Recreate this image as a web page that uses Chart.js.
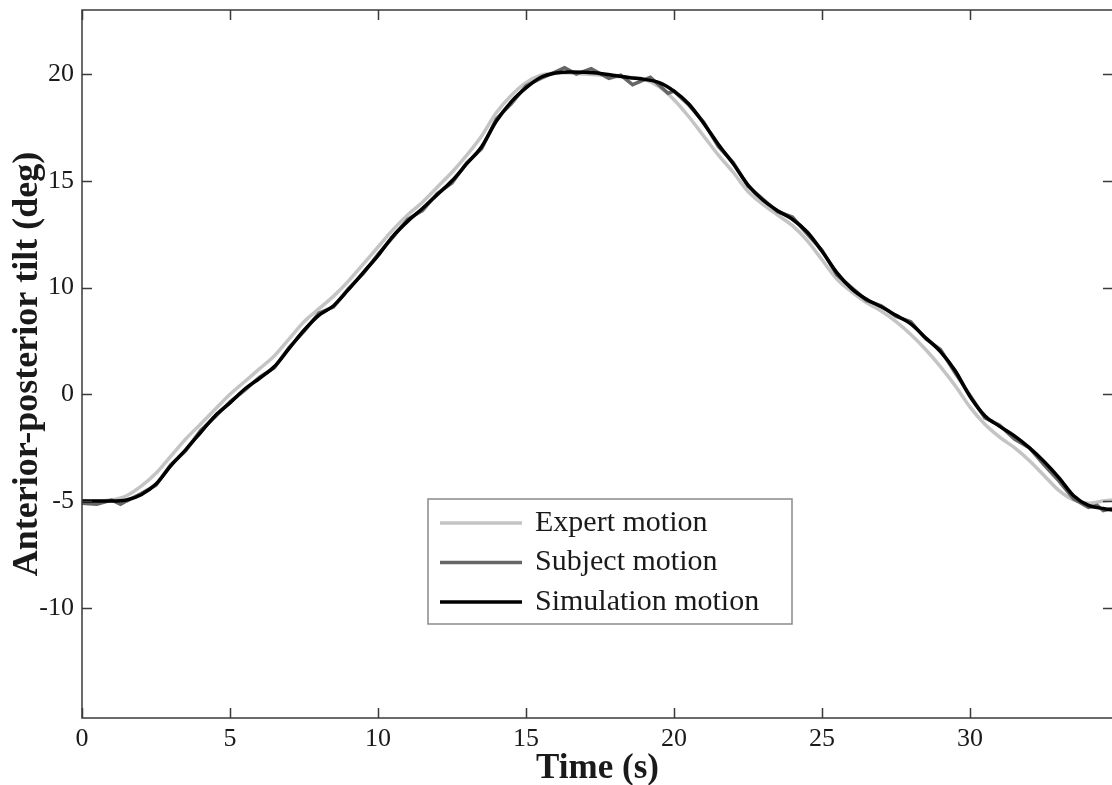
<!DOCTYPE html>
<html>
<head>
<meta charset="utf-8">
<title>Anterior-posterior tilt</title>
<script src="https://cdn.jsdelivr.net/npm/chart.js@4.4.0/dist/chart.umd.min.js"></script>
<style>
  html, body { margin: 0; padding: 0; background: #fff; overflow: hidden; }
  #wrap { width: 1112px; height: 785px; overflow: hidden; }
</style>
</head>
<body>
<div id="wrap"><canvas id="tilt" width="1120" height="785"></canvas></div>
<script>
// ---- Data ----
const xTicks = [0, 5, 10, 15, 20, 25, 30];
// tick positions on the y scale and the labels printed next to them
const yTickPos = [20, 15, 10, 5, 0, -5];
const yTickLabels = ["20", "15", "10", "0", "-5", "-10"];

const seriesNames = ["Expert motion", "Subject motion", "Simulation motion"];

const timeSec = [0, 0.5, 1, 1.5, 2, 2.5, 3, 3.5, 4, 4.5, 5, 5.5, 6, 6.5, 7, 7.5, 8, 8.5, 9, 9.5,
  10, 10.5, 11, 11.5, 12, 12.5, 13, 13.5, 14, 14.5, 15, 15.5, 16, 16.5, 17, 17.5, 18, 18.5, 19, 19.5,
  20, 20.5, 21, 21.5, 22, 22.5, 23, 23.5, 24, 24.5, 25, 25.5, 26, 26.5, 27, 27.5, 28, 28.5, 29, 29.5,
  30, 30.5, 31, 31.5, 32, 32.5, 33, 33.5, 34, 34.5, 34.8];

const expertTilt = [0, 0, 0.05, 0.25, 0.7, 1.3, 2.1, 2.9, 3.6, 4.3, 5.0, 5.6, 6.2, 6.8, 7.6, 8.4, 9.0, 9.6, 10.3, 11.1,
  11.9, 12.7, 13.4, 14.0, 14.7, 15.4, 16.2, 17.1, 18.2, 19.0, 19.6, 19.95, 20.05, 20.05, 20.0, 19.95, 19.9, 19.85, 19.75, 19.4,
  18.8, 18.0, 17.1, 16.2, 15.4, 14.5, 13.9, 13.4, 12.9, 12.2, 11.3, 10.4, 9.8, 9.3, 8.9, 8.4, 7.8, 7.1, 6.3, 5.4,
  4.4, 3.6, 3.0, 2.5, 1.9, 1.2, 0.5, 0.05, -0.1, 0.0, 0.05];

const simTilt = [0, 0, 0, 0.05, 0.3, 0.8, 1.65, 2.4, 3.2, 4.0, 4.6, 5.25, 5.75, 6.3, 7.15, 8.0, 8.7, 9.15, 9.9, 10.7,
  11.5, 12.4, 13.1, 13.7, 14.35, 15.0, 15.8, 16.6, 17.8, 18.7, 19.35, 19.85, 20.05, 20.1, 20.08, 20.03, 19.93, 19.83, 19.75, 19.6,
  19.2, 18.6, 17.7, 16.7, 15.8, 14.8, 14.1, 13.6, 13.2, 12.6, 11.7, 10.7, 9.95, 9.45, 9.1, 8.7, 8.3, 7.65, 7.0, 6.1,
  4.9, 4.0, 3.5, 3.05, 2.5, 1.85, 1.1, 0.25, -0.2, -0.35, -0.42];

const subjectTime = [0, 0.5, 1, 1.3, 1.5, 2, 2.5, 3, 3.5, 4, 4.5, 5, 5.5, 6, 6.5, 7, 7.5, 8, 8.5, 9, 9.5,
  10, 10.5, 11, 11.5, 12, 12.5, 13, 13.5, 14, 14.5, 15, 15.5, 16, 16.3, 16.7, 17.2, 17.8, 18.2, 18.6, 19.2, 19.8,
  20, 20.5, 21, 21.5, 22, 22.5, 23, 23.5, 24, 24.5, 25, 25.5, 26, 26.5, 27, 27.5, 28, 28.5, 29, 29.5,
  30, 30.5, 31, 31.5, 32, 32.5, 33, 33.5, 34, 34.3, 34.5, 34.8];

const subjectTilt = [-0.1, -0.15, 0.05, -0.15, 0.0, 0.35, 0.75, 1.7, 2.35, 3.3, 3.95, 4.65, 5.2, 5.8, 6.25, 7.2, 7.95, 8.8, 9.1, 9.95, 10.65,
  11.55, 12.35, 13.2, 13.6, 14.4, 14.9, 15.85, 16.5, 17.9, 18.6, 19.45, 19.8, 20.1, 20.3, 20.0, 20.25, 19.8, 19.95, 19.5, 19.85, 19.1,
  19.2, 18.55, 17.75, 16.6, 15.85, 14.75, 14.15, 13.55, 13.3, 12.5, 11.75, 10.6, 10.0, 9.4, 9.15, 8.65, 8.4, 7.6, 7.1, 6.0,
  4.95, 3.9, 3.55, 2.9, 2.5, 1.7, 0.95, 0.1, -0.3, -0.2, -0.45, -0.35];

// ---- Styles ----
const C = {
  expert:  "#c4c4c4",
  subject: "#666666",
  sim:     "#000000",
  frame:   "#3a3a3a",
  text:    "#1a1a1a",
  legendBorder: "#8a8a8a",
};
const FONT = "'Liberation Serif', 'Times New Roman', serif";

const toPoints = (xs, ys) => xs.map((t, i) => ({x: t, y: ys[i]}));

// no extra room for half tick labels, the frame sits at fixed offsets
const noPad = s => { s.paddingTop = 0; s.paddingBottom = 0; s.paddingLeft = 0; s.paddingRight = 0; };

// frame with inward ticks on all four sides, plus the boxed legend
const framePlugin = {
  id: "frame",
  afterDraw(chart) {
    const {ctx, chartArea: a, scales: {x, y}} = chart;
    const tick = 10;
    ctx.save();
    ctx.strokeStyle = C.frame;
    ctx.lineWidth = 1.5;
    ctx.strokeRect(a.left, a.top, a.right - a.left, a.bottom - a.top);
    ctx.beginPath();
    xTicks.forEach(t => {
      const px = Math.round(x.getPixelForValue(t)) + 0.5;
      ctx.moveTo(px, a.bottom); ctx.lineTo(px, a.bottom - tick);
      ctx.moveTo(px, a.top); ctx.lineTo(px, a.top + tick);
    });
    yTickPos.forEach(v => {
      const py = Math.round(y.getPixelForValue(v)) + 0.5;
      ctx.moveTo(a.left, py); ctx.lineTo(a.left + tick, py);
      ctx.moveTo(a.right, py); ctx.lineTo(a.right - tick, py);
    });
    ctx.stroke();

    // legend
    const lx = a.left + 346, ly = a.top + 489, lw = 364, lh = 125;
    ctx.fillStyle = "#fff";
    ctx.fillRect(lx, ly, lw, lh);
    ctx.strokeStyle = C.legendBorder;
    ctx.lineWidth = 1.5;
    ctx.strokeRect(lx, ly, lw, lh);
    ctx.font = "30px " + FONT;
    ctx.textBaseline = "middle";
    chart.data.datasets.forEach((ds, i) => {
      const ry = ly + 24 + i * 39.5;
      ctx.strokeStyle = ds.borderColor;
      ctx.lineWidth = 3.5;
      ctx.beginPath();
      ctx.moveTo(lx + 12, ry); ctx.lineTo(lx + 94, ry);
      ctx.stroke();
      ctx.fillStyle = C.text;
      ctx.fillText(ds.label, lx + 107, ry);
    });
    ctx.restore();
  }
};

new Chart(document.getElementById("tilt"), {
  type: "line",
  data: {
    datasets: [
      {
        label: seriesNames[0],
        data: toPoints(timeSec, expertTilt),
        borderColor: C.expert, borderWidth: 3.5, tension: 0.3,
        pointRadius: 0, order: 3,
      },
      {
        label: seriesNames[1],
        data: toPoints(subjectTime, subjectTilt),
        borderColor: C.subject, borderWidth: 3.5, tension: 0,
        pointRadius: 0, order: 2,
      },
      {
        label: seriesNames[2],
        data: toPoints(timeSec, simTilt),
        borderColor: C.sim, borderWidth: 3.5, cubicInterpolationMode: "monotone",
        pointRadius: 0, order: 1,
      },
    ]
  },
  options: {
    responsive: false,
    animation: false,
    devicePixelRatio: 1,
    layout: { padding: { top: 10, right: 7, left: 0, bottom: 0 } },
    plugins: { legend: { display: false }, tooltip: { enabled: false } },
    scales: {
      x: {
        type: "linear",
        min: 0, max: 34.83,
        afterFit: s => { s.height = 67; noPad(s); },
        afterBuildTicks: s => { s.ticks = xTicks.map(v => ({value: v})); },
        grid: { display: false, drawTicks: false },
        border: { display: false },
        ticks: { color: C.text, font: { family: FONT, size: 26 }, padding: 6, maxRotation: 0 },
        title: {
          display: true, text: "Time (s)", color: C.text,
          font: { family: FONT, size: 35, weight: "bold", lineHeight: 0.9 },
          padding: { top: 0, bottom: 0 },
        },
      },
      y: {
        type: "linear",
        min: -10.16, max: 23,
        afterFit: s => { s.width = 82; noPad(s); },
        afterBuildTicks: s => { s.ticks = yTickPos.map(v => ({value: v})); },
        grid: { display: false, drawTicks: false },
        border: { display: false },
        ticks: {
          color: C.text, font: { family: FONT, size: 26 }, padding: 8,
          callback: v => yTickLabels[yTickPos.indexOf(v)],
        },
        title: {
          display: true, text: "Anterior-posterior tilt (deg)", color: C.text,
          font: { family: FONT, size: 36, weight: "bold", lineHeight: 1 },
          padding: { top: 10, bottom: 0 },
        },
      },
    }
  },
  plugins: [framePlugin],
});
</script>
</body>
</html>
